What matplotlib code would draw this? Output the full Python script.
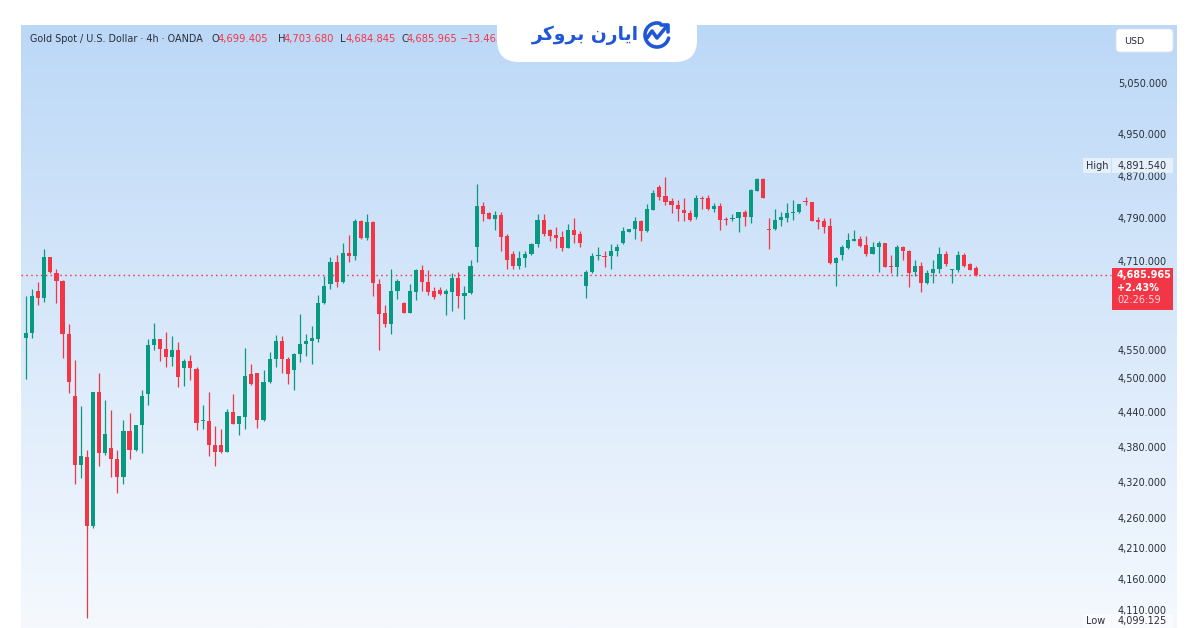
import numpy as np
import matplotlib
matplotlib.use("Agg")
import matplotlib.pyplot as plt
from matplotlib.colors import LinearSegmentedColormap
from matplotlib.patches import Rectangle, FancyBboxPatch

# Gold Spot / U.S. Dollar, 4h candles (OANDA)
OPEN = [4572, 4581, 4658, 4645, 4719, 4690, 4676, 4580, 4470, 4351,
        4365, 4248, 4477, 4372, 4380, 4361, 4330, 4409, 4376, 4419,
        4473, 4560, 4570, 4553, 4539, 4552, 4519, 4532, 4518, 4426,
        4427, 4386, 4386, 4374, 4442, 4422, 4434, 4509, 4510, 4428,
        4494, 4536, 4567, 4536, 4515, 4545, 4562, 4567, 4571, 4635,
        4670, 4710, 4673, 4727, 4722, 4787, 4755, 4784, 4670, 4617,
        4598, 4657, 4636, 4618, 4656, 4695, 4674, 4658, 4659, 4652,
        4656, 4682, 4649, 4653, 4739, 4815, 4802, 4791, 4798, 4759,
        4726, 4703, 4718, 4725, 4743, 4789, 4770, 4761, 4757, 4737,
        4770, 4762, 4667, 4693, 4721, 4722, 4721, 4730, 4745, 4767,
        4771, 4786, 4768, 4808, 4850, 4834, 4824, 4817, 4808, 4801,
        4794, 4830, 4830, 4809, 4815, 4791, 4791, 4792, 4803, 4794,
        4844, 4866, 4772, 4771, 4788, 4793, 4801, 4803, 4824, 4822,
        4789, 4786, 4777, 4709, 4723, 4736, 4750, 4754, 4742, 4726,
        4739, 4745, 4704, 4701, 4739, 4731, 4692, 4703, 4672, 4690,
        4697, 4725, 4695, 4695, 4723, 4706, 4699.405]
HIGH = [4648, 4661, 4674, 4735, 4720, 4698, 4678, 4598, 4534, 4453,
        4377, 4478, 4511, 4464, 4446, 4377, 4429, 4440, 4420, 4481,
        4570, 4599, 4571, 4583, 4576, 4566, 4535, 4542, 4521, 4455,
        4477, 4418, 4412, 4447, 4474, 4436, 4554, 4526, 4511, 4516,
        4548, 4578, 4576, 4539, 4546, 4616, 4580, 4594, 4650, 4684,
        4719, 4723, 4746, 4761, 4790, 4789, 4800, 4786, 4680, 4632,
        4698, 4680, 4638, 4670, 4698, 4705, 4696, 4664, 4665, 4662,
        4690, 4692, 4667, 4715, 4856, 4823, 4804, 4805, 4804, 4762,
        4730, 4731, 4731, 4745, 4800, 4800, 4771, 4775, 4768, 4781,
        4793, 4768, 4696, 4727, 4738, 4730, 4744, 4744, 4775, 4772,
        4795, 4789, 4818, 4845, 4854, 4870, 4829, 4827, 4830, 4807,
        4835, 4834, 4835, 4821, 4821, 4795, 4800, 4804, 4807, 4846,
        4868, 4868, 4792, 4810, 4804, 4820, 4826, 4819, 4831, 4823,
        4795, 4792, 4792, 4719, 4742, 4764, 4770, 4758, 4758, 4748,
        4750, 4746, 4723, 4742, 4740, 4733, 4714, 4711, 4696, 4715,
        4738, 4730, 4697, 4730, 4727, 4709, 4703.68]
LOW = [4500, 4573, 4632, 4638, 4690, 4635, 4537, 4476, 4319, 4329,
       4099.125, 4246, 4349, 4368, 4330, 4303, 4319, 4361, 4375, 4371,
       4454, 4551, 4532, 4521, 4523, 4486, 4487, 4499, 4411, 4412,
       4367, 4350, 4372, 4373, 4421, 4402, 4412, 4490, 4415, 4427,
       4493, 4522, 4511, 4492, 4481, 4530, 4541, 4527, 4566, 4634,
       4661, 4665, 4672, 4711, 4715, 4754, 4751, 4649, 4551, 4592,
       4579, 4643, 4617, 4617, 4641, 4658, 4650, 4643, 4650, 4614,
       4622, 4627, 4606, 4652, 4711, 4787, 4790, 4770, 4730, 4698,
       4697, 4698, 4702, 4724, 4738, 4759, 4750, 4737, 4730, 4736,
       4746, 4739, 4644, 4690, 4714, 4702, 4698, 4722, 4744, 4766,
       4754, 4749, 4767, 4807, 4827, 4817, 4802, 4786, 4787, 4787,
       4790, 4810, 4807, 4804, 4770, 4779, 4786, 4766, 4777, 4782,
       4843, 4829, 4735, 4770, 4778, 4785, 4789, 4802, 4817, 4786,
       4771, 4765, 4707, 4667, 4714, 4734, 4749, 4739, 4721, 4725,
       4693, 4701, 4691, 4684, 4714, 4664, 4684, 4656, 4671, 4672,
       4690, 4704, 4672, 4693, 4702, 4695, 4684.845]
CLOSE = [4581, 4648, 4645, 4719, 4692, 4675, 4579, 4494, 4351, 4367,
         4248, 4477, 4372, 4404, 4361, 4330, 4409, 4376, 4419, 4471,
         4560, 4570, 4553, 4539, 4552, 4503, 4532, 4519, 4424, 4427,
         4386, 4374, 4374, 4442, 4422, 4435, 4505, 4491, 4429, 4494,
         4535, 4567, 4536, 4509, 4545, 4562, 4567, 4573, 4635, 4667,
         4710, 4673, 4727, 4722, 4787, 4755, 4784, 4672, 4616, 4598,
         4657, 4675, 4618, 4657, 4695, 4673, 4656, 4646, 4652, 4657,
         4682, 4649, 4654, 4703, 4815, 4800, 4791, 4797, 4757, 4715,
         4703, 4718, 4726, 4744, 4789, 4762, 4759, 4755, 4737, 4770,
         4761, 4746, 4693, 4722, 4722, 4720, 4731, 4738, 4768, 4771,
         4786, 4768, 4809, 4840, 4832, 4822, 4816, 4809, 4801, 4789,
         4830, 4828, 4809, 4815, 4789, 4789, 4792, 4803, 4794, 4845,
         4866, 4829, 4770, 4789, 4795, 4801, 4804, 4818, 4823, 4787,
         4784, 4776, 4708, 4718, 4738, 4751, 4754, 4740, 4725, 4739,
         4745, 4702, 4702, 4739, 4730, 4691, 4703, 4672, 4691, 4698,
         4725, 4707, 4696, 4723, 4704, 4696, 4685.965]

Y_TICKS = [5050, 4950, 4870, 4790, 4710, 4630, 4550, 4500, 4440,
           4380, 4320, 4260, 4210, 4160, 4110]
RANGE_HIGH = 4891.540
RANGE_LOW = 4099.125
CHANGE_ABS = -13.465
CHANGE_PCT = 2.43
COUNTDOWN = "02:26:59"
HEADER = "Gold Spot / U.S. Dollar · 4h · OANDA"

UP = "#089981"
DOWN = "#f23645"
TXT = "#2a2e39"
W, H = 1200, 628

fig = plt.figure(figsize=(W / 100, H / 100), dpi=100)
fig.patch.set_facecolor("white")

# chart panel: x 21..1177, y 25..628 (pixels, from top)
rect = [21 / W, 0, 1156 / W, 603 / H]
ax_bg = fig.add_axes(rect, zorder=0)
grad = LinearSegmentedColormap.from_list("bg", ["#f5f9fe", "#bcd8f7"])
ax_bg.imshow(np.linspace(0, 1, 256).reshape(-1, 1), cmap=grad, aspect="auto",
             origin="lower", extent=[0, 1, 0, 1])
ax_bg.set_axis_off()

ax = fig.add_axes(rect, zorder=1)
ax.patch.set_visible(False)
ax.set_yscale("log")
ax.set_xlim(-0.82, 189.0)
ax.set_ylim(4082.6, 5167.8)
ax.set_axis_off()

o = np.array(OPEN, dtype=float)
hi = np.array(HIGH, dtype=float)
lo = np.array(LOW, dtype=float)
c = np.array(CLOSE, dtype=float)
x = np.arange(len(o))
col = np.where(c >= o, UP, DOWN)

ax.vlines(x, lo, hi, colors=col, linewidth=0.9, zorder=2)
body_lo = np.minimum(o, c)
body_h = np.maximum(np.abs(c - o), 1.8)
ax.bar(x, body_h, bottom=body_lo, width=0.68, color=col, linewidth=0, zorder=3)

last = CLOSE[-1]
ax.axhline(last, xmin=0, xmax=(1111 - 21) / 1156, color=DOWN, linewidth=1.0,
           linestyle=(0, (1.1, 2.4)), zorder=1)


def ypix(price):
    return H - ax.transData.transform((0, price))[1]


# overlay in pixel coordinates (origin top-left)
ov = fig.add_axes([0, 0, 1, 1], zorder=5)
ov.set_xlim(0, W)
ov.set_ylim(H, 0)
ov.set_axis_off()
ov.patch.set_visible(False)

# price scale labels
for v in Y_TICKS:
    ov.text(1167, ypix(v), f"{v:,.3f}", ha="right", va="center",
            fontsize=7, color=TXT, zorder=2)

# USD button
ov.add_patch(FancyBboxPatch((1116, 29), 57, 23, boxstyle="round,pad=0,rounding_size=4",
                            fc="white", ec="#e0e3eb", lw=0.6, zorder=3))
ov.text(1124, 41, "USD", ha="left", va="center", fontsize=6.8, color=TXT, zorder=4)

# high / low labels; the low one sits on the bottom edge of the panel
for name, val in (("High", RANGE_HIGH), ("Low", RANGE_LOW)):
    yc = ypix(val) if name == "High" else H - 7
    ov.add_patch(Rectangle((1083, yc - 7.5), 28, 15, fc="white", alpha=0.55, lw=0, zorder=3))
    ov.add_patch(Rectangle((1112, yc - 7.5), 61, 15, fc="white", alpha=0.55, lw=0, zorder=3))
    ov.text(1086, yc, name, ha="left", va="center", fontsize=7, color=TXT, zorder=4)
    ov.text(1167, yc, f"{val:,.3f}", ha="right", va="center", fontsize=7, color=TXT, zorder=4)

# last price label
yl = ypix(last)
ov.add_patch(Rectangle((1112, yl - 7), 61, 42, fc=DOWN, lw=0, zorder=3))
ov.text(1117, yl, f"{last:,.3f}", ha="left", va="center", fontsize=7,
        color="white", fontweight="bold", zorder=4)
ov.text(1117, yl + 13, f"+{CHANGE_PCT:.2f}%", ha="left", va="center", fontsize=7,
        color="white", fontweight="bold", zorder=4)
ov.text(1117, yl + 25, COUNTDOWN, ha="left", va="center", fontsize=7,
        color="#ffd9dc", zorder=4)

# header legend
ov.text(30, 39, HEADER, ha="left", va="center", fontsize=6.9, color=TXT)
parts = [(212, "O", TXT), (218, f"{OPEN[-1]:,.3f}", DOWN),
         (278, "H", TXT), (284, f"{HIGH[-1]:,.3f}", DOWN),
         (340, "L", TXT), (346, f"{LOW[-1]:,.3f}", DOWN),
         (401, "C", TXT), (407, f"{last:,.3f}", DOWN),
         (460, f"\u2212{abs(CHANGE_ABS):.3f}", DOWN)]
for px, s, cc in parts:
    ov.text(px, 39, s, ha="left", va="center", fontsize=7.2, color=cc)

# logo tab
ov.add_patch(FancyBboxPatch((497, -40), 200, 102, boxstyle="round,pad=0,rounding_size=22",
                            fc="white", ec="none", zorder=6))
blue = "#1f57d6"
ov.text(585, 35, "ﺮﮐﻭﺮﺑ ﻥﺭﺎﯾﺍ", ha="center", va="center", fontsize=13.5,
        fontweight="bold", color=blue, family="DejaVu Sans", zorder=7)
t = np.radians(np.linspace(75, 345, 60))
ov.plot(657 + 12 * np.cos(t), 35 - 12 * np.sin(t), color=blue, lw=2.6,
        solid_capstyle="round", zorder=7)
ov.plot([647, 652, 657, 667], [38, 31, 38, 26], color=blue, lw=2.6,
        solid_joinstyle="round", solid_capstyle="round", zorder=7)
ov.plot([661, 668, 668], [25, 25, 32], color=blue, lw=2.6,
        solid_joinstyle="round", solid_capstyle="round", zorder=7)

fig.savefig("out.png", dpi=100, facecolor="white")
